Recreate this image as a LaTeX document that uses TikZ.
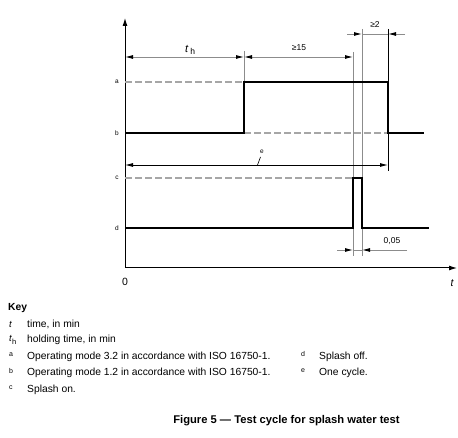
\documentclass[tikz,border=0pt]{standalone}
\usepackage{fontspec}
\setmainfont{Liberation Sans}
\usetikzlibrary{arrows.meta}
\begin{document}
\begin{tikzpicture}[x=1pt,y=-1pt,
  sig/.style={line width=2.6pt},
  axis/.style={line width=1pt,-{Latex[length=8pt,width=5pt]}},
  guide/.style={draw=black!45,line width=0.8pt},
  thinblk/.style={draw=black,line width=0.8pt},
  lvl/.style={draw=black!35,line width=1.2pt,dash pattern=on 7pt off 3pt},
  dimline/.style={draw=black!45,line width=0.9pt},
  tip/.style={-{Latex[length=8pt,width=4pt,black]}},
  tips/.style={{Latex[length=8pt,width=4pt,black]}-{Latex[length=8pt,width=4pt,black]}},
  lvllab/.style={font=\fontsize{6.5}{7}\selectfont,anchor=center},
  dimlab/.style={font=\fontsize{8.5}{9}\selectfont,anchor=center},
  keytxt/.style={font=\fontsize{10.3}{12}\selectfont,anchor=west,inner sep=0pt},
  keylet/.style={font=\fontsize{7}{8}\selectfont,anchor=west,inner sep=0pt},
  caption/.style={font=\bfseries\fontsize{11.2}{13}\selectfont,anchor=center}]
\useasboundingbox (0,0) rectangle (458,438);
% coordinates
\coordinate (O) at (125,268);
\coordinate (Ytop) at (125,18);
\coordinate (Xend) at (457,268);
\coordinate (aL) at (125,82);
\coordinate (bL) at (125,133);
\coordinate (cL) at (125,178);
\coordinate (dL) at (125,228);
\coordinate (t1b) at (244,133);
\coordinate (t1a) at (244,82);
\coordinate (t2a) at (388,82);
\coordinate (t2b) at (388,133);
\coordinate (bEnd) at (424,133);
\coordinate (p1d) at (353,228);
\coordinate (p1c) at (353,178);
\coordinate (p2c) at (362,178);
\coordinate (p2d) at (362,228);
\coordinate (dEnd) at (429,228);
% axes
\draw[axis] (O) -- (Ytop);
\draw[axis] (O) -- (Xend);
\node[font=\fontsize{10.5}{12}\selectfont] (zero) at (125,282) {0};
\node[font=\itshape\fontsize{10.5}{12}\selectfont] (tlab) at (452,283) {t};
% level labels
\node[lvllab] (la) at (117,82) {a};
\node[lvllab] (lb) at (117,133) {b};
\node[lvllab] (lc) at (117,178) {c};
\node[lvllab] (ld) at (117,228) {d};
% dashed levels
\draw[lvl] (aL) -- (t1a);
\draw[lvl] (t1b) -- (t2b);
\draw[lvl] (cL) -- (p1c);
% guide lines
\coordinate (g1top) at (244,51);
\draw[guide] (g1top) -- (t1a);
\coordinate (g2top) at (353,52);
\coordinate (g2bot) at (353,256);
\draw[guide] (g2top) -- (g2bot);
\coordinate (g3top) at (362,29);
\coordinate (g3bot) at (362,256);
\draw[guide] (g3top) -- (g3bot);
\coordinate (g4top) at (388,29);
\coordinate (g4bot) at (388,171);
\draw[thinblk] (g4top) -- (g4bot);
% signals
\draw[sig] (bL) -- (t1b) -- (t1a) -- (t2a) -- (t2b) -- (bEnd);
\draw[sig] (dL) -- (p1d) -- (p1c) -- (p2c) -- (p2d) -- (dEnd);
% th dimension
\coordinate (thL) at (125,57);
\coordinate (thR) at (244,57);
\coordinate (d15R) at (353,57);
\draw[dimline,tips] (thL) -- (thR);
\draw[dimline,tips] (thR) -- (d15R);
\node[font=\fontsize{11}{12}\selectfont] (thlab) at (190,50) {\textit{t}\,\raisebox{-2.5pt}{\fontsize{8.5}{9}\selectfont h}};
\node[dimlab] (l15) at (299,48) {≥15};
% >=2 dimension
\coordinate (d2a) at (347,34);
\coordinate (d2b) at (362,34);
\coordinate (d2c) at (388,34);
\coordinate (d2d) at (405,34);
\draw[dimline] (d2b) -- (d2c);
\draw[dimline,tip] (d2a) -- (d2b);
\draw[dimline,tip] (d2d) -- (d2c);
\node[dimlab] (l2) at (375,25) {≥2};
% e dimension
\coordinate (eL) at (125,165);
\coordinate (eR) at (388,165);
\draw[thinblk,{Latex[length=8pt,width=4pt]}-{Latex[length=8pt,width=4pt]}] (eL) -- (eR);
\node[lvllab] (le) at (262,152) {e};
\coordinate (eld1) at (257.5,165);
\coordinate (eld2) at (260.5,157);
\draw[thinblk,line width=0.6pt] (eld1) -- (eld2);
% 0,05 dimension
\coordinate (f1) at (337,250);
\coordinate (f2) at (353,250);
\coordinate (f3) at (362,250);
\coordinate (f4) at (407,250);
\draw[dimline] (f2) -- (f3);
\draw[dimline,tip] (f1) -- (f2);
\draw[dimline,tip] (f4) -- (f3);
\node[dimlab] (l005) at (392,241) {0,05};
% key
\node[keytxt,font=\bfseries\fontsize{10.3}{12}\selectfont] (key) at (8,308) {Key};
\node[keytxt,font=\itshape\fontsize{9.5}{11}\selectfont] (k1) at (9,324) {t};
\node[keytxt] (k1t) at (27,324) {time, in min};
\node[keytxt,font=\fontsize{9.5}{11}\selectfont] (k2) at (9,340) {\textit{t}\raisebox{-3pt}{\fontsize{7.5}{8}\selectfont h}};
\node[keytxt] (k2t) at (27,340) {holding time, in min};
\node[keylet] (k3) at (9,355) {a};
\node[keytxt] (k3t) at (27,357) {Operating mode 3.2 in accordance with ISO 16750-1.};
\node[keylet] (k4) at (9,371) {b};
\node[keytxt] (k4t) at (27,373) {Operating mode 1.2 in accordance with ISO 16750-1.};
\node[keylet] (k5) at (9,388) {c};
\node[keytxt] (k5t) at (27,390) {Splash on.};
\node[keylet] (k6) at (301,354) {d};
\node[keytxt] (k6t) at (319,357) {Splash off.};
\node[keylet] (k7) at (301,371) {e};
\node[keytxt] (k7t) at (319,373) {One cycle.};
\node[caption] (cap) at (286.5,421) {Figure 5 — Test cycle for splash water test};
\end{tikzpicture}
\end{document}
